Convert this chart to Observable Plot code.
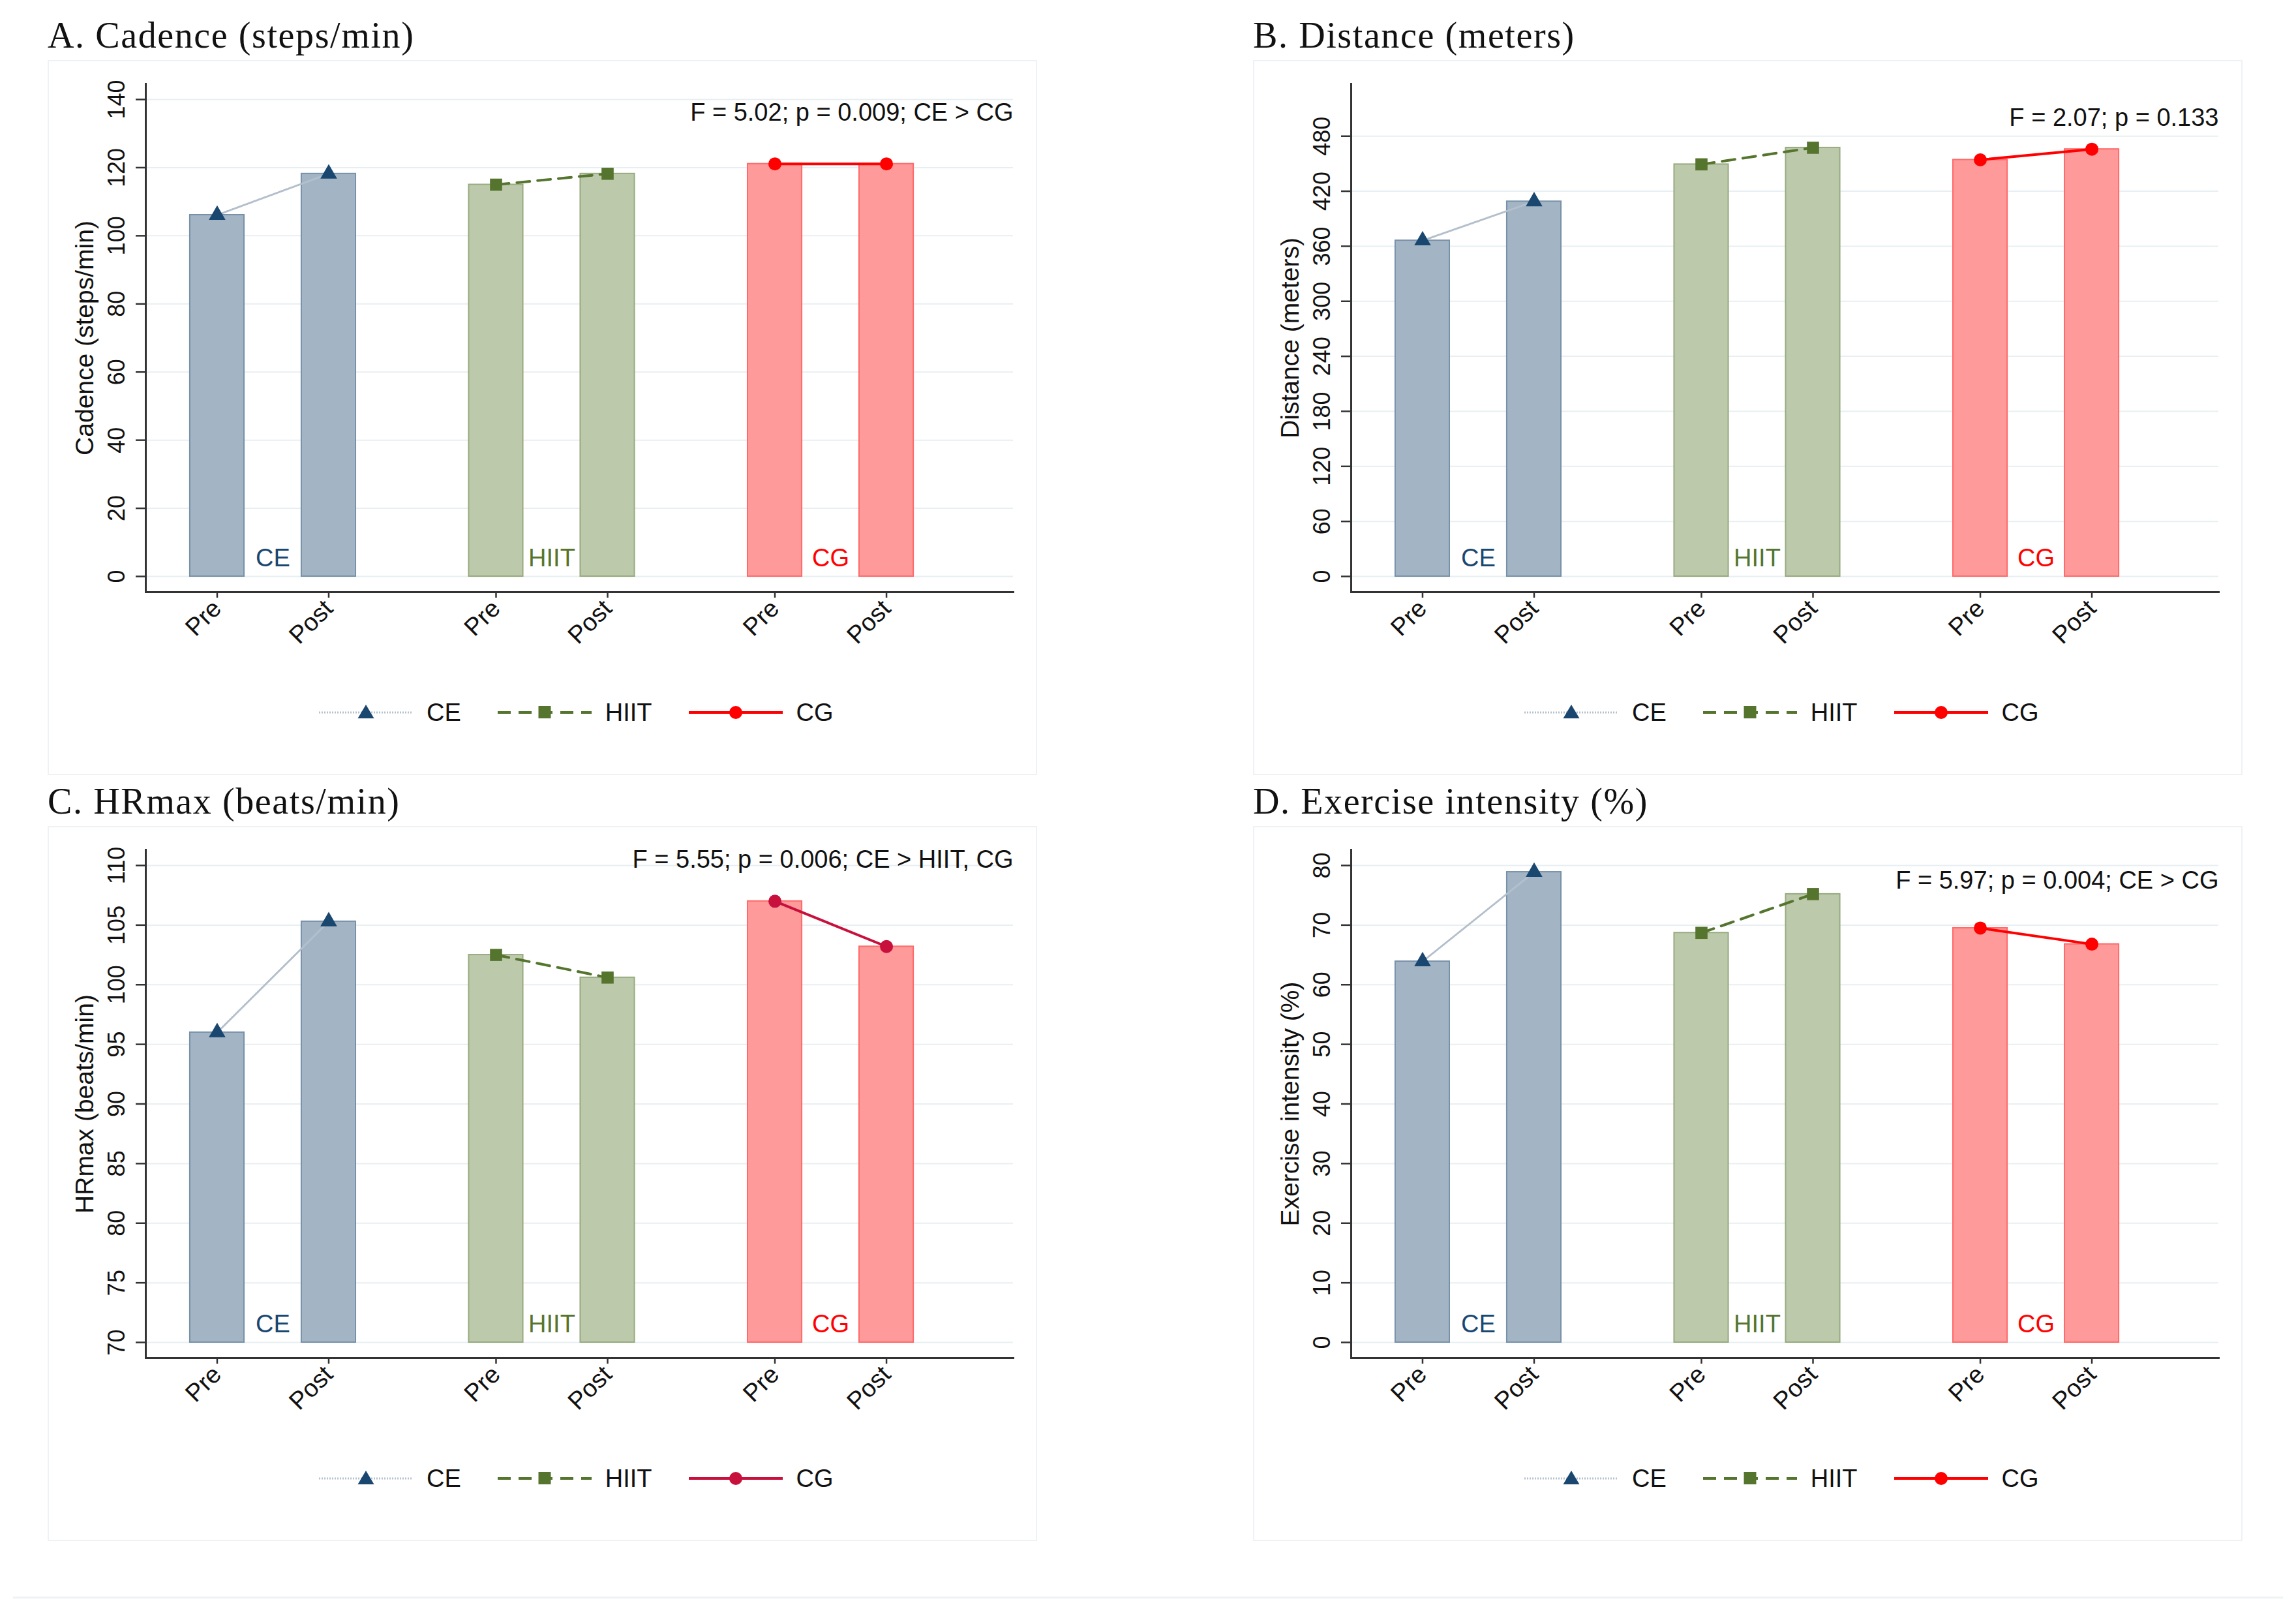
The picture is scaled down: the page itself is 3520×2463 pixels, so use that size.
<!DOCTYPE html>
<html><head><meta charset="utf-8">
<script src="https://cdn.jsdelivr.net/npm/d3@7"></script>
<script src="https://cdn.jsdelivr.net/npm/@observablehq/plot@0.6"></script>
<style>
html,body{margin:0;padding:0;background:#fff;}
body{width:3520px;height:2463px;position:relative;overflow:hidden;font-family:"Liberation Sans",Arial,sans-serif;}
.title{position:absolute;font-family:"Liberation Serif",serif;font-size:56px;color:#111;white-space:nowrap;line-height:56px;letter-spacing:1.6px}
.box{position:absolute;width:1517px;height:1096px;border:2px solid #eef2f4;box-sizing:border-box;background:#fff}
.plot{position:absolute;}
.legend{position:absolute;display:flex;align-items:center;font-size:38px;color:#111;height:40px;white-space:nowrap}
.legend .item{display:flex;align-items:center;margin-right:56px}
.legend .item span{margin-left:21px}
.bottomline{position:absolute;left:20px;top:2447px;width:3480px;height:3px;background:#eef2f3}
</style></head><body>
<script>
// ---- data ----
const groups = ["CE", "HIIT", "CG"];
const times = ["Pre", "Post"];
// order: CE Pre, CE Post, HIIT Pre, HIIT Post, CG Pre, CG Post
const cadence   = [106.1, 118.2, 115.0, 118.2, 121.1, 121.1];
const distance  = [366.2, 408.8, 449.3, 467.4, 454.2, 465.8];
const hrmax     = [96.0, 105.3, 102.5, 100.6, 107.0, 103.2];
const intensity = [63.9, 78.9, 68.7, 75.2, 69.5, 66.8];

const cadenceTicks   = [0, 20, 40, 60, 80, 100, 120, 140];
const distanceTicks  = [0, 60, 120, 180, 240, 300, 360, 420, 480];
const hrmaxTicks     = [70, 75, 80, 85, 90, 95, 100, 105, 110];
const intensityTicks = [0, 10, 20, 30, 40, 50, 60, 70, 80];

const panelTitles = ["A. Cadence (steps/min)", "B. Distance (meters)", "C. HRmax (beats/min)", "D. Exercise intensity (%)"];
const axisTitles  = ["Cadence (steps/min)", "Distance (meters)", "HRmax (beats/min)", "Exercise intensity (%)"];
const statTexts   = ["F = 5.02; p = 0.009; CE > CG", "F = 2.07; p = 0.133", "F = 5.55; p = 0.006; CE > HIIT, CG", "F = 5.97; p = 0.004; CE > CG"];
const statY       = [136.2, 500, 110.5, 77.5];
const yDomains    = [[0, 140], [0, 520], [70, 110], [0, 80]];

// ---- layout / style (not data) ----
const xPos = [1, 2, 3.5, 4.5, 6, 7];
const xDomain = [0.36, 8.137];
const halfW = 0.243;
const origins = [[73, 92], [1921, 92], [73, 1266], [1921, 1266]];
const W = 1517, H = 1096;
const fills   = {CE: "#a3b5c5", HIIT: "#bcc9ab", CG: "#ff9a9a"};
const strokes = {CE: "#7891a9", HIIT: "#98ab80", CG: "#ff6a6a"};
const markColors = [
  {CE: "#1a476f", HIIT: "#55752f", CG: "#ff0000"},
  {CE: "#1a476f", HIIT: "#55752f", CG: "#ff0000"},
  {CE: "#1a476f", HIIT: "#55752f", CG: "#c8103c"},
  {CE: "#1a476f", HIIT: "#55752f", CG: "#ff0000"}
];
const lineStyle = {
  CE:   {color: "#b3bfcc", width: 3, dash: "2,2"},
  HIIT: {color: "#55752f", width: 4, dash: "20,12"},
  CG:   {width: 4, dash: null}
};
const symbols = {CE: "triangle", HIIT: "square", CG: "circle"};
const radii = {CE: 9.5, HIIT: 10.5, CG: 10};
const labelColors = {CE: "#1a476f", HIIT: "#55752f", CG: "#ff0000"};

const seriesList = [cadence, distance, hrmax, intensity];
const tickList = [cadenceTicks, distanceTicks, hrmaxTicks, intensityTicks];

function makePanel(p) {
  const [ox, oy] = origins[p];
  const values = seriesList[p];
  const dom = yDomains[p];
  const rows = values.map((v, i) => ({group: groups[Math.floor(i / 2)], time: times[i % 2], value: v, pos: xPos[i]}));
  const timeAt = new Map(rows.map(d => [d.pos, d.time]));

  const marks = [
    Plot.gridY(tickList[p], {stroke: "#e8eff2", strokeOpacity: 1, strokeWidth: 2})
  ];
  for (const g of groups) {
    const gr = rows.filter(d => d.group === g);
    marks.push(Plot.rectY(gr, {x1: d => d.pos - halfW, x2: d => d.pos + halfW, y1: dom[0], y2: "value",
      fill: fills[g], stroke: strokes[g], strokeWidth: 2}));
  }
  for (const g of groups) {
    const gr = rows.filter(d => d.group === g);
    const ls = lineStyle[g];
    marks.push(Plot.line(gr, {x: "pos", y: "value", stroke: g === "CG" ? markColors[p].CG : ls.color,
      strokeWidth: ls.width, strokeDasharray: ls.dash || undefined}));
    marks.push(Plot.dot(gr, {x: "pos", y: "value", symbol: symbols[g], r: radii[g], fill: markColors[p][g], stroke: "none"}));
    marks.push(Plot.text([g], {x: () => d3.mean(gr, d => d.pos), y: () => dom[0], dy: -16, lineAnchor: "bottom",
      text: d => d, fill: labelColors[g], fontSize: 38}));
  }
  marks.push(Plot.text([statTexts[p]], {x: () => xDomain[1], y: () => statY[p], text: d => d, textAnchor: "end",
    lineAnchor: "middle", fontSize: 38, fill: "#111"}));
  marks.push(Plot.text([axisTitles[p]], {frameAnchor: "left", dx: -81, rotate: -90, textAnchor: "middle", lineAnchor: "bottom",
    text: d => d, fontSize: 39, fill: "#111"}));
  marks.push(Plot.axisY({ticks: tickList[p], tickSize: 15, tickPadding: 18, tickRotate: -90, fontSize: 36,
    label: null, stroke: "#333", strokeWidth: 2.5, fill: "#111"}));
  marks.push(Plot.axisX({ticks: xPos, tickFormat: d => timeAt.get(d), tickSize: 9, tickPadding: 10, tickRotate: -45,
    fontSize: 38, label: null, stroke: "#333", strokeWidth: 2.5, fill: "#111"}));
  marks.push(Plot.frame({anchor: "left", stroke: "#333", strokeWidth: 3}));
  marks.push(Plot.frame({anchor: "bottom", stroke: "#333", strokeWidth: 3}));

  const chart = Plot.plot({
    width: W, height: H,
    marginLeft: 150, marginRight: 37, marginTop: 36, marginBottom: 281,
    insetTop: 24, insetBottom: 24,
    x: {domain: xDomain},
    y: {domain: dom},
    style: {fontFamily: "Liberation Sans, Arial, sans-serif", fontSize: "36px", background: "transparent", overflow: "visible", color: "#111"},
    marks
  });

  const box = document.createElement("div");
  box.className = "box";
  box.style.left = ox + "px"; box.style.top = oy + "px";
  document.body.appendChild(box);

  const wrap = document.createElement("div");
  wrap.className = "plot";
  wrap.style.left = ox + "px"; wrap.style.top = oy + "px";
  wrap.appendChild(chart);
  document.body.appendChild(wrap);

  const t = document.createElement("div");
  t.className = "title";
  t.textContent = panelTitles[p];
  t.style.left = ox + "px"; t.style.top = (oy - 66) + "px";
  document.body.appendChild(t);

  // legend
  const lg = document.createElement("div");
  lg.className = "legend";
  lg.style.left = (ox + 416) + "px"; lg.style.top = (oy + 980) + "px";
  for (const g of groups) {
    const ls = lineStyle[g];
    const col = g === "CG" ? markColors[p].CG : ls.color;
    const mc = markColors[p][g];
    let sym = "";
    if (g === "CE") sym = `<polygon points="72,3 59.5,24 84.5,24" fill="${mc}"/>`;
    else if (g === "HIIT") sym = `<rect x="62.5" y="5" width="19" height="19" fill="${mc}"/>`;
    else sym = `<circle cx="72" cy="15" r="10" fill="${mc}"/>`;
    const dash = g === "CE" ? ' stroke-dasharray="2,2"' : g === "HIIT" ? ' stroke-dasharray="20,12"' : "";
    const lcol = g === "CE" ? "#b5c1ce" : col;
    const item = document.createElement("div");
    item.className = "item";
    item.innerHTML = `<svg width="144" height="30"><line x1="0" y1="15" x2="144" y2="15" stroke="${lcol}" stroke-width="${ls.width}"${dash}/>${sym}</svg><span>${g}</span>`;
    lg.appendChild(item);
  }
  document.body.appendChild(lg);
}

for (let p = 0; p < 4; p++) makePanel(p);
const bl = document.createElement("div");
bl.className = "bottomline";
document.body.appendChild(bl);
</script>
</body></html>
